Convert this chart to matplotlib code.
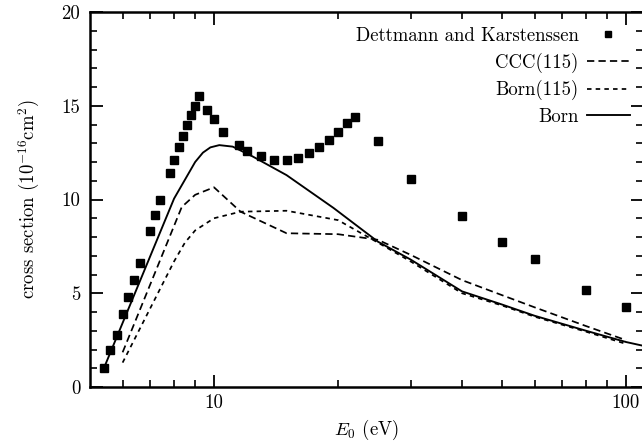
import matplotlib
matplotlib.use("Agg")
import matplotlib.pyplot as plt
from matplotlib.ticker import FixedLocator, NullFormatter, FixedFormatter, MultipleLocator

plt.rcParams['font.family'] = ['cmr10', 'DejaVu Serif']
plt.rcParams['mathtext.fontset'] = 'cm'
plt.rcParams['axes.unicode_minus'] = False

# Experimental data (Dettmann and Karstenssen)
exp_E = [5.4, 5.6, 5.8, 6.0, 6.2, 6.4, 6.6, 7.0, 7.2, 7.4, 7.8, 8.0, 8.2, 8.4,
         8.6, 8.8, 9.0, 9.2, 9.6, 10.0, 10.5, 11.5, 12.0, 13.0, 14.0, 15.0,
         16.0, 17.0, 18.0, 19.0, 20.0, 21.0, 22.0, 25.0, 30.0, 40.0, 50.0,
         60.0, 80.0, 100.0]
exp_sigma = [1.0, 2.0, 2.8, 3.9, 4.8, 5.7, 6.6, 8.3, 9.2, 10.0, 11.4, 12.1,
             12.8, 13.4, 14.0, 14.5, 15.0, 15.5, 14.8, 14.3, 13.6, 12.9, 12.6,
             12.3, 12.1, 12.1, 12.2, 12.5, 12.8, 13.2, 13.6, 14.1, 14.4, 13.1,
             11.1, 9.1, 7.75, 6.85, 5.2, 4.25]

# CCC(115)
ccc_E = [6.0, 8.35, 9.0, 10.0, 11.6, 15.0, 20.0, 25.0, 30.0, 40.0, 50.0, 60.0, 80.0, 100.0]
ccc_sigma = [1.85, 9.6, 10.25, 10.65, 9.35, 8.2, 8.15, 7.85, 7.05, 5.7, 4.9, 4.25, 3.25, 2.5]

# Born(115)
born115_E = [6.0, 8.0, 8.5, 9.0, 10.0, 11.6, 15.0, 20.0, 25.0, 30.0, 40.0, 50.0, 60.0, 80.0, 100.0]
born115_sigma = [1.3, 6.7, 7.7, 8.35, 9.0, 9.35, 9.4, 8.9, 7.7, 6.7, 5.0, 4.35, 3.75, 2.95, 2.3]

# Born
born_E = [5.45, 8.0, 9.0, 9.4, 9.8, 10.3, 11.1, 12.4, 15.0, 19.5, 25.0, 30.0, 40.0, 50.0, 60.0, 80.0, 100.0, 110.0]
born_sigma = [1.2, 10.05, 12.0, 12.5, 12.78, 12.9, 12.82, 12.3, 11.3, 9.55, 7.75, 6.8, 5.1, 4.4, 3.8, 3.0, 2.4, 2.2]

FS = 13.5

fig = plt.figure(figsize=(6.42, 4.43), dpi=100)
ax = fig.add_axes([90/642, 56/443, 553/642, 375/443])

ax.plot(exp_E, exp_sigma, 's', color='black', markersize=5.6, linestyle='none',
        label='Dettmann and Karstenssen')
ax.plot(ccc_E, ccc_sigma, color='black', lw=1.25, dashes=(4.2, 2.4), label='CCC(115)')
ax.plot(born115_E, born115_sigma, color='black', lw=1.25, dashes=(2.6, 2.4), label='Born(115)')
ax.plot(born_E, born_sigma, color='black', lw=1.35, label='Born')

ax.set_xscale('log')
ax.set_xlim(5, 110)
ax.set_ylim(0, 20)

ax.xaxis.set_major_locator(FixedLocator([10, 100]))
ax.xaxis.set_major_formatter(FixedFormatter(['10', '100']))
ax.xaxis.set_minor_locator(FixedLocator([6, 7, 8, 9, 20, 30, 40, 50, 60, 70, 80, 90]))
ax.xaxis.set_minor_formatter(NullFormatter())
ax.yaxis.set_major_locator(MultipleLocator(5))
ax.yaxis.set_minor_locator(MultipleLocator(1))

ax.tick_params(which='both', direction='in', top=True, right=True, labelsize=FS)
ax.tick_params(which='major', length=9, width=1.3)
ax.tick_params(axis='x', which='major', pad=5)
ax.tick_params(axis='y', which='major', pad=7)
ax.tick_params(which='minor', length=5, width=1.2)
for s in ax.spines.values():
    s.set_linewidth(1.8)

ax.set_xlabel(r'$E_0$ (eV)', fontsize=FS, labelpad=4)
ax.set_ylabel(r'cross section (10$^{-16}$cm$^2$)', fontsize=FS, labelpad=14)

leg = ax.legend(loc='upper right', frameon=False, markerfirst=False, fontsize=FS,
                handlelength=2.3, handletextpad=0.45, labelspacing=0.4,
                borderaxespad=0.0, bbox_to_anchor=(0.99, 0.98), markerscale=0.85)

fig.savefig('out.png', dpi=100)
